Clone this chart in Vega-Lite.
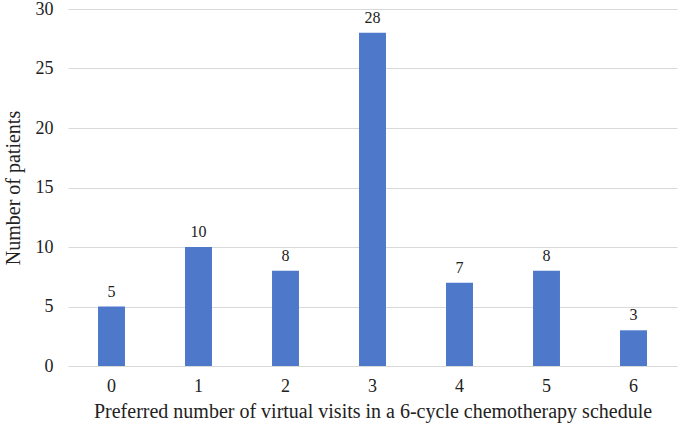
{
  "$schema": "https://vega.github.io/schema/vega-lite/v6.json",
  "autosize": {"type": "none"},
  "width": 609,
  "height": 357,
  "padding": {"left": 68, "top": 9, "right": 2, "bottom": 59},
  "background": "white",
  "config": {
    "view": {"stroke": null},
    "font": "Liberation Serif",
    "axis": {"labelFont": "Liberation Serif", "titleFont": "Liberation Serif", "labelColor": "#222", "titleColor": "#222", "titleFontWeight": "normal"}
  },
  "data": {
    "values": [
      {"visits": "0", "patients": 5},
      {"visits": "1", "patients": 10},
      {"visits": "2", "patients": 8},
      {"visits": "3", "patients": 28},
      {"visits": "4", "patients": 7},
      {"visits": "5", "patients": 8},
      {"visits": "6", "patients": 3}
    ]
  },
  "encoding": {
    "x": {
      "field": "visits", "type": "ordinal", "sort": null,
      "scale": {"paddingInner": 0.69, "paddingOuter": 0.345},
      "axis": {"title": "Preferred number of virtual visits in a 6-cycle chemotherapy schedule", "labelAngle": 0, "domain": false, "ticks": false, "labelPadding": 11, "labelFontSize": 18, "titleFontSize": 20, "titlePadding": 6}
    },
    "y": {
      "field": "patients", "type": "quantitative",
      "scale": {"domain": [0, 30]},
      "axis": {"title": "Number of patients", "values": [0, 5, 10, 15, 20, 25, 30], "domain": false, "ticks": false, "labelPadding": 15, "labelFontSize": 18, "titleFontSize": 20, "titlePadding": 12, "gridColor": "#d9d9d9", "gridWidth": 1.2}
    }
  },
  "layer": [
    {"mark": {"type": "bar", "color": "#4e79cb"}},
    {"mark": {"type": "text", "dy": -15, "fontSize": 16, "color": "#222", "font": "Liberation Serif"}, "encoding": {"text": {"field": "patients"}}}
  ]
}
